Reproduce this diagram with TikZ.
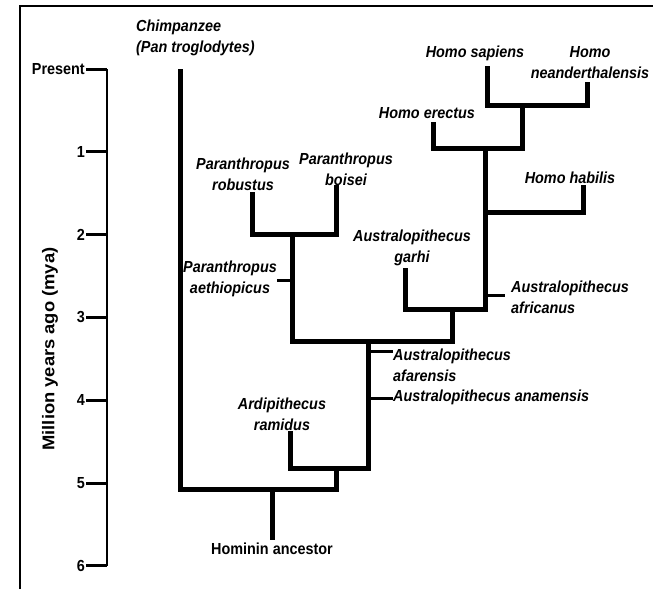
\documentclass[tikz,border=0pt]{standalone}
\usepackage{fontspec}
\newfontfamily\labfont[FakeStretch=0.9]{Liberation Sans}
\newfontfamily\axfont[FakeStretch=1.08]{Liberation Sans}
\begin{document}
\begin{tikzpicture}[x=1pt,y=-1pt,
  thickbr/.style={line width=5pt,line join=miter,line cap=rect},
  thinbr/.style={line width=3pt},
  axisln/.style={line width=2pt},
  frameln/.style={line width=2.6pt},
  sp/.style={inner sep=0pt,align=center,font=\labfont\bfseries\itshape\fontsize{16}{21}\selectfont},
  spl/.style={sp,align=left},
  ticklab/.style={inner sep=0pt,anchor=east,font=\labfont\bfseries\fontsize{16}{20}\selectfont}]
\useasboundingbox (0,0) rectangle (653,589);
% frame
\coordinate (f1) at (20,589);
\coordinate (f2) at (20,6);
\coordinate (f3) at (653,6);
\draw[frameln] (f1) -- (f2) -- (f3);
% axis
\coordinate (a0) at (107,69);
\coordinate (a6) at (107,566);
\draw[axisln] (a0) -- (a6);
\foreach \t/\lab [count=\i] in {0/Present,1/1,2/2,3/3,4/4,5/5,6/6}{
  \coordinate (tk\i) at (86,{69+82.8*\t});
  \coordinate (ta\i) at (107,{69+82.8*\t});
  \draw[thinbr] (tk\i) -- (ta\i);
  \node[ticklab] (tl\i) at ([xshift=-1pt]tk\i) {\lab};
}
\node[inner sep=0pt,rotate=90,font=\axfont\bfseries\fontsize{17}{20}\selectfont] (ylab) at (50,349) {Million years ago (mya)};
% coordinates
\coordinate (chT) at (180,71);
\coordinate (chB) at (180,489);
\coordinate (rR) at (336,489);
\coordinate (ancT) at (272,489);
\coordinate (ancB) at (272,537);
\coordinate (arT) at (290,433);
\coordinate (arB) at (290,468);
\coordinate (auB) at (368,468);
\coordinate (rJ) at (336,468);
\coordinate (auT) at (368,341);
\coordinate (paB) at (292,341);
\coordinate (gaB) at (452,341);
\coordinate (afa0) at (368,351);
\coordinate (afa1) at (393,351);
\coordinate (ana0) at (368,398);
\coordinate (ana1) at (393,398);
\coordinate (paT) at (292,234);
\coordinate (roB) at (252,234);
\coordinate (roT) at (252,194);
\coordinate (boB) at (336,234);
\coordinate (boT) at (336,187);
\coordinate (ae0) at (277,280);
\coordinate (ae1) at (292,280);
\coordinate (gaT) at (452,309);
\coordinate (gL) at (405,309);
\coordinate (gLT) at (405,270);
\coordinate (hB) at (485,309);
\coordinate (afr0) at (485,295);
\coordinate (afr1) at (505,295);
\coordinate (hT) at (485,148);
\coordinate (erB) at (433,148);
\coordinate (erT) at (433,124);
\coordinate (hsB) at (522,148);
\coordinate (hsT) at (522,105);
\coordinate (haJ) at (485,212);
\coordinate (haB) at (583,212);
\coordinate (haT) at (583,187);
\coordinate (saB) at (487,105);
\coordinate (saT) at (487,68);
\coordinate (neB) at (587,105);
\coordinate (neT) at (587,84);
% branches
\draw[thickbr] (chT) -- (chB) -- (rR) -- (rJ);
\draw[thickbr] (ancT) -- (ancB);
\draw[thickbr] (arT) -- (arB) -- (auB) -- (auT);
\draw[thickbr] (paB) -- (gaB) -- (gaT);
\draw[thickbr] (paB) -- (paT);
\draw[thickbr] (roT) -- (roB) -- (boB) -- (boT);
\draw[thickbr] (gLT) -- (gL) -- (hB) -- (hT);
\draw[thickbr] (erT) -- (erB) -- (hsB) -- (hsT);
\draw[thickbr] (haJ) -- (haB) -- (haT);
\draw[thickbr] (saT) -- (saB) -- (neB) -- (neT);
\draw[thinbr] (afa0) -- (afa1);
\draw[thinbr] (ana0) -- (ana1);
\draw[thinbr] (ae0) -- (ae1);
\draw[thinbr] (afr0) -- (afr1);
% labels
\node[spl,anchor=west] (chimp) at (136,37.5) {Chimpanzee\\(Pan troglodytes)};
\node[sp] (robustus) at (243,174) {Paranthropus\\robustus};
\node[sp] (boisei) at (346,169) {Paranthropus\\boisei};
\node[sp] (aeth) at (230,279) {Paranthropus\\aethiopicus};
\node[sp] (garhi) at (412,247.5) {Australopithecus\\garhi};
\node[sp] (sapiens) at (475,53) {Homo sapiens};
\node[sp] (neander) at (590,62.5) {Homo\\neanderthalensis};
\node[sp] (erectus) at (427,113) {Homo erectus};
\node[sp] (habilis) at (570,178) {Homo habilis};
\node[sp] (ramidus) at (282,414) {Ardipithecus\\ramidus};
\node[spl,anchor=west] (afarensis) at (393,365) {Australopithecus\\afarensis};
\node[spl,anchor=west] (anamensis) at (393,397) {Australopithecus anamensis};
\node[spl,anchor=west] (africanus) at (511,297.5) {Australopithecus\\africanus};
\node[inner sep=0pt,font=\labfont\bfseries\fontsize{16}{20}\selectfont] (ancestor) at (272,549) {Hominin ancestor};
\end{tikzpicture}
\end{document}
